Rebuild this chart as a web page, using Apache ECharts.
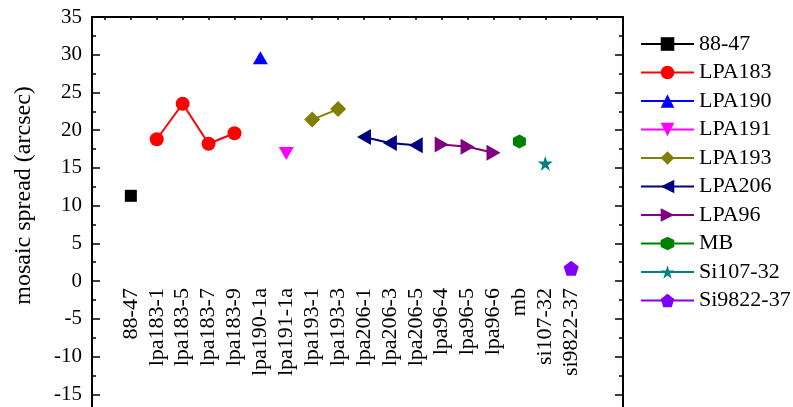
<!DOCTYPE html>
<html>
<head>
<meta charset="utf-8">
<script src="https://cdn.jsdelivr.net/npm/echarts@6/dist/echarts.min.js"></script>
<style>html,body{margin:0;padding:0;background:#fff}#c{width:793px;height:407px}</style>
</head>
<body>
<div id="c"></div>
<script>
var categories = ['88-47','lpa183-1','lpa183-5','lpa183-7','lpa183-9','lpa190-1a','lpa191-1a','lpa193-1','lpa193-3','lpa206-1','lpa206-3','lpa206-5','lpa96-4','lpa96-5','lpa96-6','mb','si107-32','si9822-37'];
var s8847 = [['88-47', 11.3]];
var sLPA183 = [['lpa183-1', 18.8], ['lpa183-5', 23.5], ['lpa183-7', 18.2], ['lpa183-9', 19.6]];
var sLPA190 = [['lpa190-1a', 29.6]];
var sLPA191 = [['lpa191-1a', 16.9]];
var sLPA193 = [['lpa193-1', 21.4], ['lpa193-3', 22.8]];
var sLPA206 = [['lpa206-1', 19.1], ['lpa206-3', 18.3], ['lpa206-5', 18.0]];
var sLPA96 = [['lpa96-4', 18.1], ['lpa96-5', 17.8], ['lpa96-6', 17.0]];
var sMB = [['mb', 18.5]];
var sSi107 = [['si107-32', 15.6]];
var sSi9822 = [['si9822-37', 1.7]];
var yTicks = {min: -20, max: 35, interval: 5};

var FONT = "'Liberation Serif','Times New Roman',serif";
function toXY(arr){ return arr.map(function(p){ return [categories.indexOf(p[0]) + 2, p[1]]; }); }
var catPos = categories.map(function(c, i){ return i + 2; });
var topTicks = []; for (var t = 1; t <= 20; t++) topTicks.push(t);

var GRID = {left: 92, right: 170, top: 17, bottom: -25};
var plotH = 407 - GRID.top - GRID.bottom;
// move the category label axis up to the y = 0 line
var zeroOffset = -(0 - yTicks.min) / (yTicks.max - yTicks.min) * plotH;

var STAR = 'path://M0,-1 L0.2245,-0.309 L0.951,-0.309 L0.363,0.118 L0.588,0.809 L0,0.382 L-0.588,0.809 L-0.363,0.118 L-0.951,-0.309 L-0.2245,-0.309 Z';
var PENT = 'path://M0,-1 L0.951,-0.309 L0.588,0.809 L-0.588,0.809 L-0.951,-0.309 Z';
var HEX = 'path://M0,-1 L0.866,-0.5 L0.866,0.5 L0,1 L-0.866,0.5 L-0.866,-0.5 Z';
var LTRI = 'path://M-1,0 L1,-1 L1,1 Z';
var RTRI = 'path://M1,0 L-1,-1 L-1,1 Z';
var DTRI = 'path://M-1,-1 L1,-1 L0,1 Z';
var DIAM = 'path://M0,-1 L1,0 L0,1 L-1,0 Z';

function ser(name, data, color, symbol, size){
  return {name: name, type: 'line', data: toXY(data), xAxisIndex: 0, yAxisIndex: 0,
    symbol: symbol, symbolSize: size, showSymbol: true,
    lineStyle: {color: color, width: 2}, itemStyle: {color: color, opacity: 1},
    emphasis: {disabled: true}, animation: false, z: 3};
}

var chart = echarts.init(document.getElementById('c'), null, {renderer: 'canvas'});
chart.setOption({
  backgroundColor: '#fff',
  animation: false,
  grid: {left: GRID.left, right: GRID.right, top: GRID.top, bottom: GRID.bottom, containLabel: false, outerBoundsMode: 'none'},
  xAxis: [
    {type: 'value', min: 0.5, max: 21, position: 'bottom', offset: zeroOffset,
     axisLine: {show: false, onZero: false},
     axisTick: {show: false},
     splitLine: {show: false},
     axisLabel: {customValues: catPos, rotate: 90, margin: 7, fontFamily: FONT, fontSize: 22, color: '#000',
       formatter: function(v){ return categories[Math.round(v) - 2] || ''; }}},
    {type: 'value', min: 0.5, max: 21, position: 'top',
     axisLine: {show: true, onZero: false, lineStyle: {color: '#000', width: 2}},
     axisTick: {show: true, inside: true, length: 3, customValues: topTicks, lineStyle: {color: '#000', width: 1.5}},
     axisLabel: {show: false}, splitLine: {show: false}}
  ],
  yAxis: [
    {type: 'value', min: yTicks.min, max: yTicks.max, interval: yTicks.interval, position: 'left',
     name: 'mosaic spread (arcsec)', nameLocation: 'middle', nameGap: 56,
     nameTextStyle: {fontFamily: FONT, fontSize: 24, color: '#000', padding: [0, 0, 0, 58]},
     axisLine: {show: true, onZero: false, lineStyle: {color: '#000', width: 2}},
     axisTick: {show: true, inside: true, length: 8, lineStyle: {color: '#000', width: 1.5}},
     minorTick: {show: true, splitNumber: 2, length: 4, lineStyle: {color: '#000', width: 1.5}},
     splitLine: {show: false}, minorSplitLine: {show: false},
     axisLabel: {fontFamily: FONT, fontSize: 21, color: '#000', margin: 10}},
    {type: 'value', min: yTicks.min, max: yTicks.max, interval: yTicks.interval, position: 'right',
     axisLine: {show: true, onZero: false, lineStyle: {color: '#000', width: 2}},
     axisTick: {show: true, inside: true, length: 8, lineStyle: {color: '#000', width: 1.5}},
     minorTick: {show: true, splitNumber: 2, length: 4, lineStyle: {color: '#000', width: 1.5}},
     splitLine: {show: false}, axisLabel: {show: false}}
  ],
  legend: {orient: 'vertical', left: 640, top: 33, padding: 0, itemWidth: 53, itemHeight: 17, itemGap: 6.5,
    textStyle: {fontFamily: FONT, fontSize: 22, color: '#000', lineHeight: 22},
    selectedMode: false},
  series: [
    ser('88-47', s8847, '#000000', 'rect', 12),
    ser('LPA183', sLPA183, '#ff0000', 'circle', 14),
    ser('LPA190', sLPA190, '#0000ff', 'triangle', [15, 13]),
    ser('LPA191', sLPA191, '#ff00ff', DTRI, [15, 13]),
    ser('LPA193', sLPA193, '#808000', DIAM, [16, 16]),
    ser('LPA206', sLPA206, '#000080', LTRI, [14, 16]),
    ser('LPA96', sLPA96, '#800080', RTRI, [14, 16]),
    ser('MB', sMB, '#008000', HEX, [13, 14]),
    ser('Si107-32', sSi107, '#008080', STAR, [15, 15]),
    ser('Si9822-37', sSi9822, '#8000ff', PENT, [15, 15])
  ]
});
</script>
</body>
</html>
